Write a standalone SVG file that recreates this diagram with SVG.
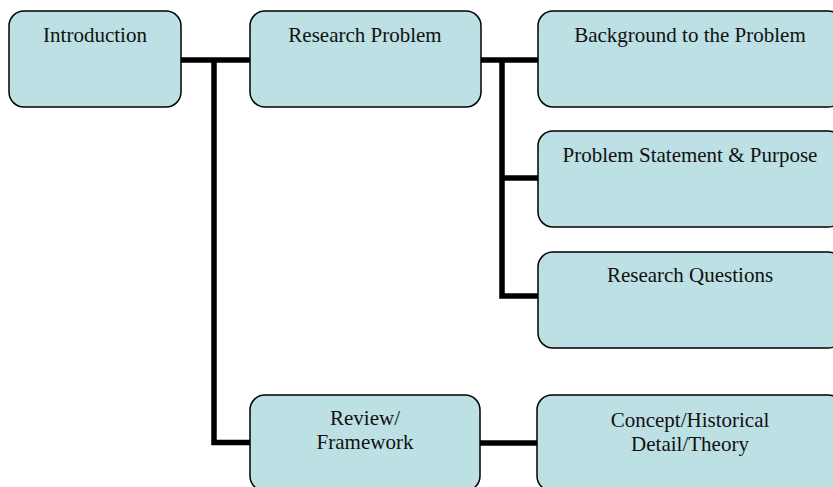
<svg xmlns="http://www.w3.org/2000/svg" width="833" height="487" viewBox="0 0 833 487">
<style>
.box{fill:#bce0e3;stroke:#000;stroke-width:1.5}
.lbl{font-family:"Liberation Serif","Times New Roman",serif;font-size:21px;fill:#111;text-anchor:middle}
.con{fill:none;stroke:#000;stroke-width:5.5;stroke-linejoin:miter;stroke-linecap:butt}
</style>
<rect width="833" height="487" fill="#fff"/>
<g id="connectors">
<path class="con" d="M180,60 H250"/>
<path class="con" d="M214,60 V442.5 H250"/>
<path class="con" d="M481,60 H538"/>
<path class="con" d="M502,60 V296 H538"/>
<path class="con" d="M502,178 H538"/>
<path class="con" d="M480,443 H537"/>
</g>
<g id="introduction">
<rect class="box" x="9" y="11" width="172" height="96" rx="15"/>
<text class="lbl" x="95" y="42">Introduction</text>
</g>
<g id="research-problem">
<rect class="box" x="250" y="11" width="231" height="96" rx="15"/>
<text class="lbl" x="365" y="42">Research Problem</text>
</g>
<g id="background">
<rect class="box" x="538" y="11" width="305" height="96" rx="15"/>
<text class="lbl" x="690" y="42">Background to the Problem</text>
</g>
<g id="problem-statement">
<rect class="box" x="538" y="131" width="305" height="96" rx="15"/>
<text class="lbl" x="690" y="162">Problem Statement &amp; Purpose</text>
</g>
<g id="research-questions">
<rect class="box" x="538" y="252" width="305" height="96" rx="15"/>
<text class="lbl" x="690" y="282">Research Questions</text>
</g>
<g id="review-framework">
<rect class="box" x="250" y="395" width="230" height="96" rx="15"/>
<text class="lbl" x="365" y="425">Review/</text>
<text class="lbl" x="365" y="449">Framework</text>
</g>
<g id="concept">
<rect class="box" x="537" y="395" width="306" height="96" rx="15"/>
<text class="lbl" x="690" y="427">Concept/Historical</text>
<text class="lbl" x="690" y="451">Detail/Theory</text>
</g>
</svg>
